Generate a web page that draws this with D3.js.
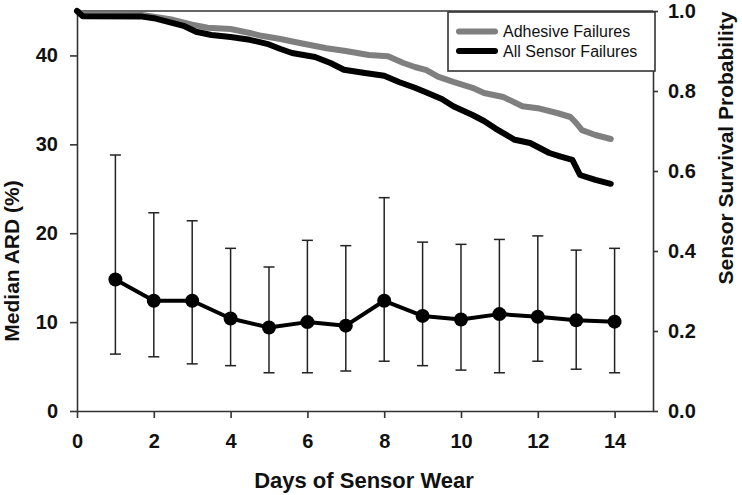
<!DOCTYPE html>
<html>
<head>
<meta charset="utf-8">
<script src="https://cdn.jsdelivr.net/npm/d3@7"></script>
<style>
  html, body { margin: 0; padding: 0; background: #fff; }
  svg { display: block; }
</style>
</head>
<body>
<svg id="chart" width="742" height="495"></svg>
<script>
// ---------- DATA ----------
const days = [1, 2, 3, 4, 5, 6, 7, 8, 9, 10, 11, 12, 13, 14];
const medianARD = [14.8, 12.4, 12.4, 10.4, 9.4, 10.0, 9.6, 12.4, 10.7, 10.3, 10.9, 10.6, 10.2, 10.05];
const ardLower  = [6.4, 6.1, 5.3, 5.1, 4.3, 4.3, 4.5, 5.6, 5.1, 4.6, 4.3, 5.6, 4.7, 4.3];
const ardUpper  = [28.8, 22.3, 21.4, 18.3, 16.2, 19.2, 18.6, 24.0, 19.0, 18.75, 19.3, 19.7, 18.1, 18.3];

const adhesiveDays = [0, 0.15, 1.7, 2.0, 2.5, 3.0, 3.4, 4.0, 4.5, 4.8, 5.3, 5.8, 6.5, 7.0, 7.6, 8.1, 8.5, 8.8, 9.1, 9.4, 9.8, 10.3, 10.6, 11.1, 11.6, 12.0, 12.5, 12.85, 13.0, 13.15, 13.5, 13.9];
const adhesiveSurv = [1.0, 0.992, 0.99, 0.986, 0.978, 0.966, 0.958, 0.955, 0.945, 0.938, 0.93, 0.92, 0.907, 0.9, 0.89, 0.887, 0.87, 0.86, 0.852, 0.836, 0.823, 0.808, 0.795, 0.785, 0.762, 0.757, 0.745, 0.735, 0.72, 0.702, 0.69, 0.68];

const allDays = [0, 0.15, 1.7, 2.0, 2.4, 2.8, 3.1, 3.5, 4.0, 4.5, 4.95, 5.3, 5.6, 6.2, 6.6, 6.95, 7.5, 8.0, 8.4, 8.8, 9.1, 9.5, 9.8, 10.3, 10.6, 10.9, 11.4, 11.8, 12.3, 12.6, 12.9, 13.1, 13.5, 13.9];
const allSurv = [1.0, 0.987, 0.986, 0.982, 0.972, 0.962, 0.948, 0.94, 0.935, 0.928, 0.918, 0.905, 0.895, 0.885, 0.87, 0.853, 0.845, 0.838, 0.822, 0.808, 0.796, 0.78, 0.762, 0.74, 0.725, 0.706, 0.678, 0.67, 0.645, 0.636, 0.628, 0.59, 0.578, 0.568];

const xTicks = [0, 2, 4, 6, 8, 10, 12, 14];
const yLeftTicks = [0, 10, 20, 30, 40];
const yRightTicks = [0, 0.2, 0.4, 0.6, 0.8, 1.0];
const legendLabels = ["Adhesive Failures", "All Sensor Failures"];

// ---------- LAYOUT ----------
const L = 77, R = 653, T = 11, B = 411;
const FONT = "'Liberation Sans', Arial, Helvetica, sans-serif";
const AX = "#333";

const svg = d3.select("#chart");
const x = d3.scaleLinear().domain([0, 15]).range([L, R]);
const yL = d3.scaleLinear().domain([0, 45]).range([B, T]);
const yR = d3.scaleLinear().domain([0, 1]).range([B, T]);

function styleAxis(g) {
  g.select(".domain").attr("stroke", AX).attr("stroke-width", 1.6);
  g.selectAll(".tick line").attr("stroke", AX).attr("stroke-width", 1.6);
  g.selectAll("text").attr("fill", "#111").attr("font-family", FONT)
    .attr("font-weight", "bold").attr("font-size", 20);
}

// top border
svg.append("line").attr("x1", L).attr("x2", R).attr("y1", T).attr("y2", T)
  .attr("stroke", AX).attr("stroke-width", 1.6);

// bottom axis
svg.append("g").attr("transform", `translate(0,${B})`)
  .call(d3.axisBottom(x).tickValues(xTicks).tickSize(7).tickSizeOuter(0).tickPadding(16).tickFormat(d3.format("d")))
  .call(styleAxis);

// left axis
svg.append("g").attr("transform", `translate(${L},0)`)
  .call(d3.axisLeft(yL).tickValues(yLeftTicks).tickSize(7).tickSizeOuter(0).tickPadding(12).tickFormat(d3.format("d")))
  .call(styleAxis);

// right axis
svg.append("g").attr("transform", `translate(${R},0)`)
  .call(d3.axisRight(yR).tickValues(yRightTicks).tickSize(5).tickSizeOuter(0).tickPadding(10).tickFormat(d3.format(".1f")))
  .call(styleAxis);

// axis titles
svg.append("text").attr("x", 364).attr("y", 488).attr("text-anchor", "middle")
  .attr("font-family", FONT).attr("font-weight", "bold").attr("font-size", 22).attr("fill", "#111")
  .text("Days of Sensor Wear");
svg.append("text").attr("transform", "translate(18.5,261) rotate(-90)").attr("text-anchor", "middle")
  .attr("font-family", FONT).attr("font-weight", "bold").attr("font-size", 21).attr("fill", "#111")
  .text("Median ARD (%)");
svg.append("text").attr("transform", "translate(733,148) rotate(-90)").attr("text-anchor", "middle")
  .attr("font-family", FONT).attr("font-weight", "bold").attr("font-size", 21).attr("fill", "#111")
  .text("Sensor Survival Probability");

// error bars
const eb = svg.append("g").attr("stroke", "#222").attr("stroke-width", 1.5);
days.forEach((d, i) => {
  eb.append("line").attr("x1", x(d)).attr("x2", x(d)).attr("y1", yL(ardLower[i])).attr("y2", yL(ardUpper[i]));
  eb.append("line").attr("x1", x(d) - 5.5).attr("x2", x(d) + 5.5).attr("y1", yL(ardLower[i])).attr("y2", yL(ardLower[i]));
  eb.append("line").attr("x1", x(d) - 5.5).attr("x2", x(d) + 5.5).attr("y1", yL(ardUpper[i])).attr("y2", yL(ardUpper[i]));
});

// median line
const medLine = d3.line().x((d, i) => x(days[i])).y(d => yL(d));
svg.append("path").datum(medianARD).attr("d", medLine)
  .attr("fill", "none").attr("stroke", "#000").attr("stroke-width", 4).attr("stroke-linejoin", "round");
svg.append("g").selectAll("circle").data(medianARD).join("circle")
  .attr("cx", (d, i) => x(days[i])).attr("cy", d => yL(d)).attr("r", 7).attr("fill", "#000");

// survival curves
const survLine = (xs) => d3.line().x((d, i) => x(xs[i])).y(d => yR(d));
svg.append("path").datum(adhesiveSurv).attr("d", survLine(adhesiveDays))
  .attr("fill", "none").attr("stroke", "#7f7f7f").attr("stroke-width", 6)
  .attr("stroke-linejoin", "round").attr("stroke-linecap", "round");
svg.append("path").datum(allSurv).attr("d", survLine(allDays))
  .attr("fill", "none").attr("stroke", "#000").attr("stroke-width", 6)
  .attr("stroke-linejoin", "round").attr("stroke-linecap", "round");

// legend
const lg = svg.append("g");
lg.append("rect").attr("x", 448).attr("y", 12).attr("width", 207).attr("height", 59)
  .attr("fill", "#fff").attr("stroke", AX).attr("stroke-width", 1.6);
const legColors = ["#7f7f7f", "#000"];
legendLabels.forEach((lab, i) => {
  const yy = 31.5 + i * 19.5;
  lg.append("line").attr("x1", 459).attr("x2", 495).attr("y1", yy).attr("y2", yy)
    .attr("stroke", legColors[i]).attr("stroke-width", 6).attr("stroke-linecap", "round");
  lg.append("text").attr("x", 503).attr("y", yy + 5.5)
    .attr("font-family", FONT).attr("font-size", 16).attr("fill", "#111").text(lab);
});
</script>
</body>
</html>
